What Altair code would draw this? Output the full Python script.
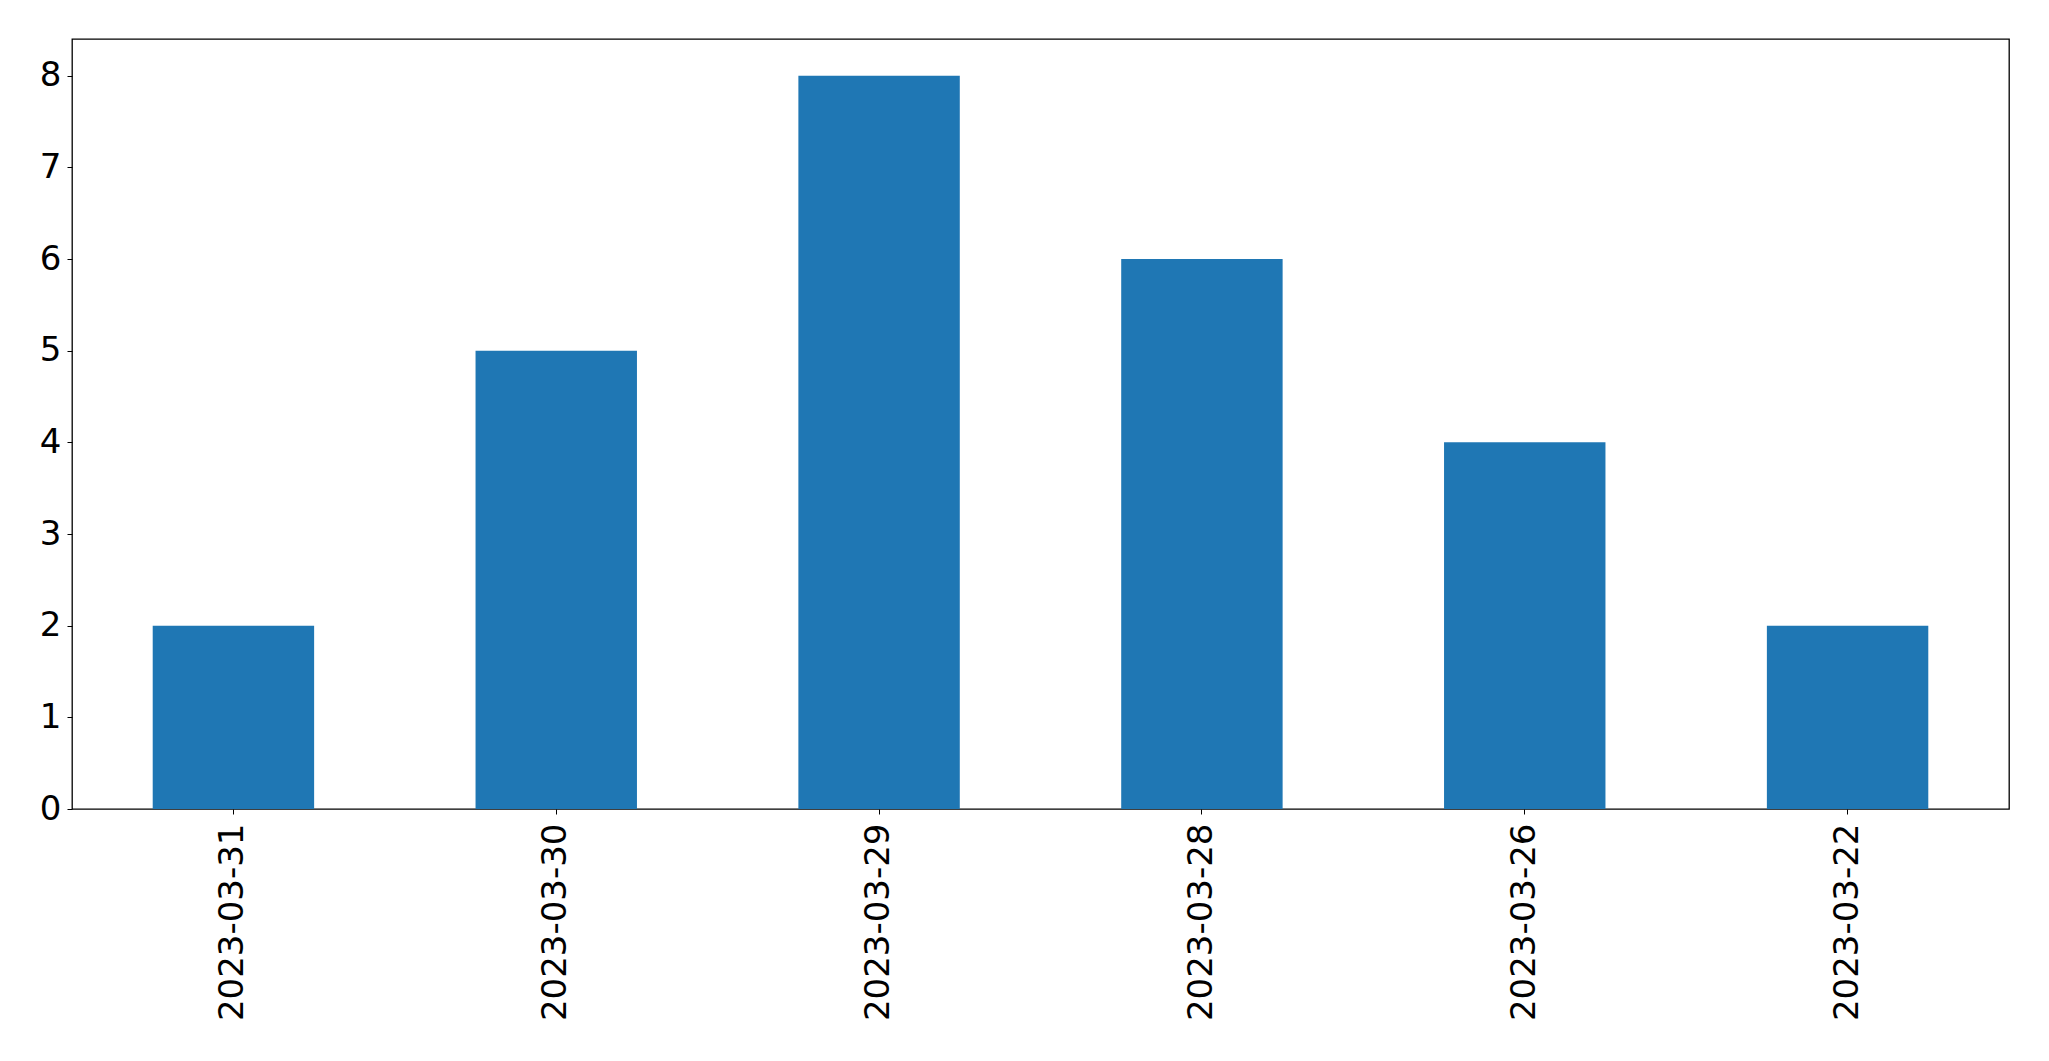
import altair as alt
import pandas as pd

dates = ["2023-03-31", "2023-03-30", "2023-03-29", "2023-03-28", "2023-03-26", "2023-03-22"]
counts = [2, 5, 8, 6, 4, 2]

df = pd.DataFrame({"date": dates, "count": counts})

font = "DejaVu Sans"

chart = alt.Chart(df).mark_bar(color="#1f77b4").encode(
    x=alt.X("date:N", sort=None, title=None,
            scale=alt.Scale(paddingInner=0.5, paddingOuter=0.25),
            axis=alt.Axis(labelAngle=-90, labelAlign="right", labelBaseline="middle",
                          labelFontSize=34, labelFont=font, labelColor="black",
                          labelPadding=9, labelLimit=0, tickSize=5, tickColor="black",
                          domain=False, grid=False)),
    y=alt.Y("count:Q", title=None,
            scale=alt.Scale(domain=[0, 8.4], nice=False),
            axis=alt.Axis(values=[0, 1, 2, 3, 4, 5, 6, 7, 8], format="d",
                          labelFontSize=34, labelFont=font, labelColor="black",
                          labelPadding=6, tickSize=5, tickColor="black",
                          domain=False, grid=False)),
).properties(
    width=1937, height=770,
    autosize=alt.AutoSizeParams(type="none"),
    padding={"left": 64, "top": 31, "right": 20, "bottom": 230},
).configure_view(
    stroke="black", strokeWidth=1.3
)

chart.save("out.html", embed_options={"renderer": "svg", "actions": False})
